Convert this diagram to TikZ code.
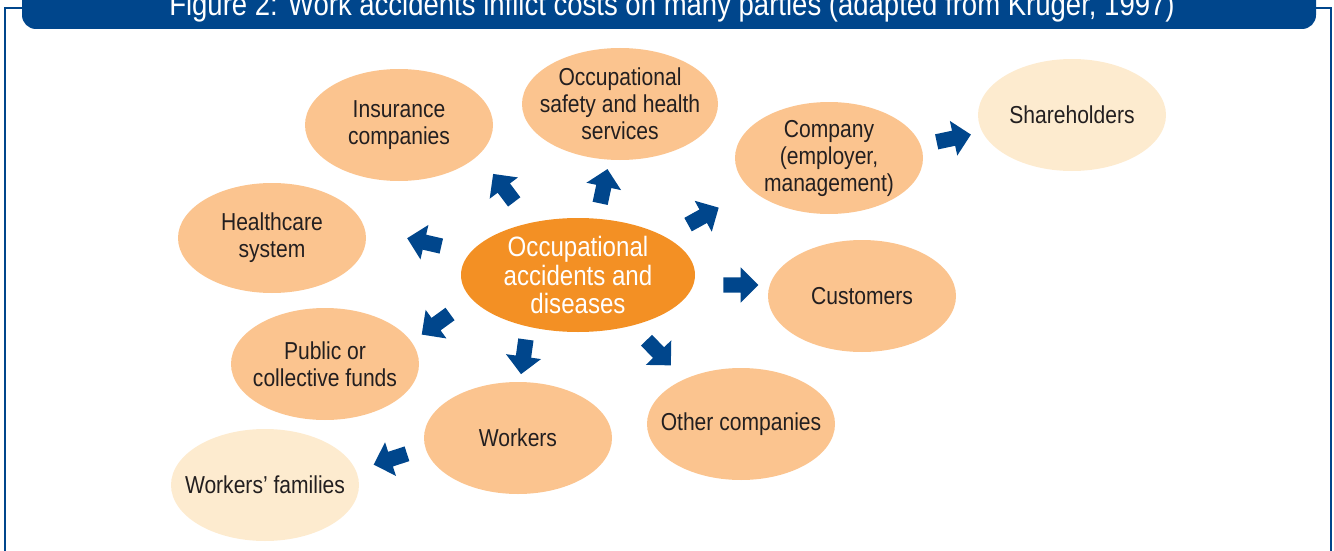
\documentclass[tikz,border=0pt]{standalone}
\usepackage{fontspec}
\setmainfont[FakeStretch=0.86]{Liberation Sans}
\usepackage{tikz}
\usepgflibrary{shapes}
\usetikzlibrary{shapes.geometric,shapes.arrows}
\usepackage{xcolor}
\definecolor{frameblue}{HTML}{00468C}
\definecolor{partyorange}{HTML}{FBC48F}
\definecolor{partycream}{HTML}{FDEBCF}
\definecolor{accorange}{HTML}{F39024}
\definecolor{textgray}{HTML}{231F20}

\begin{document}
\begin{tikzpicture}[x=1pt,y=1pt]
  \tikzstyle{party} = [ellipse,fill=partyorange,text=textgray,inner sep=-40pt,
    minimum width=188pt,minimum height=112pt,align=center,
    font=\fontsize{24.5}{27}\selectfont]
  \tikzstyle{far party} = [party,fill=partycream]
  \tikzstyle{cost arrow} = [single arrow,fill=frameblue,inner xsep=0pt,inner ysep=7.5pt,
    minimum height=35pt,single arrow head extend=10pt]
  \useasboundingbox (0,0) rectangle (1334,-551);

  % frame and title bar
  \draw[frameblue,line width=2pt] (5,-560) -- (5,-8) -- (1331,-8) -- (1331,-560);
  \node[fill=frameblue,rounded corners=14pt,minimum width=1294pt,
    minimum height=50pt,inner sep=0pt] (bar) at (669,-4) {};
  \node[anchor=base,text=white,inner sep=0pt,
    font=\fontsize{32}{34}\selectfont] (title) at (672,-16)
    {Figure 2: Work accidents inflict costs on many parties (adapted from Krüger, 1997)};

  % the parties
  \node[party,fill=accorange,text=white,minimum width=234pt,minimum height=114pt,
    font=\fontsize{28}{28.5}\selectfont] (acc) at (578,-275) {Occupational\\accidents and\\diseases};
  \node[party]                    (ins)    at (399,-125) {Insurance\\companies};
  \node[party,minimum width=196pt] (osh)   at (620,-104) {Occupational\\safety and health\\services};
  \node[party]                    (comp)   at (829,-158) {Company\\(employer,\\management)};
  \node[far party]                (share)  at (1072,-115) {Shareholders};
  \node[party,minimum height=110pt] (health) at (272,-238) {Healthcare\\system};
  \node[party]                    (cust)   at (862,-296) {Customers};
  \node[party]                    (funds)  at (325,-364) {Public or\\collective funds};
  \node[party]                    (work)   at (518,-438) {Workers};
  \node[party]                    (other)  at (741,-424) {Other companies};
  \node[far party]                (fam)    at (265,-485) {Workers’ families};

  % block arrows
  \node[cost arrow,rotate=127] (toins)    at (506,-191) {};
  \node[cost arrow,rotate=78]  (toosh)    at (603,-190) {};
  \node[cost arrow,rotate=29]  (tocomp)   at (700,-218) {};
  \node[cost arrow]            (tocust)   at (737,-285) {};
  \node[cost arrow,rotate=12]  (toshare)  at (950,-139) {};
  \node[cost arrow,rotate=167] (tohealth) at (428,-243) {};
  \node[cost arrow,rotate=216] (tofunds)  at (439,-322) {};
  \node[cost arrow,rotate=-98] (towork)   at (524,-353) {};
  \node[cost arrow,rotate=-46] (toother)  at (656,-350) {};
  \node[cost arrow,rotate=198] (tofam)    at (394,-458) {};
\end{tikzpicture}
\end{document}
